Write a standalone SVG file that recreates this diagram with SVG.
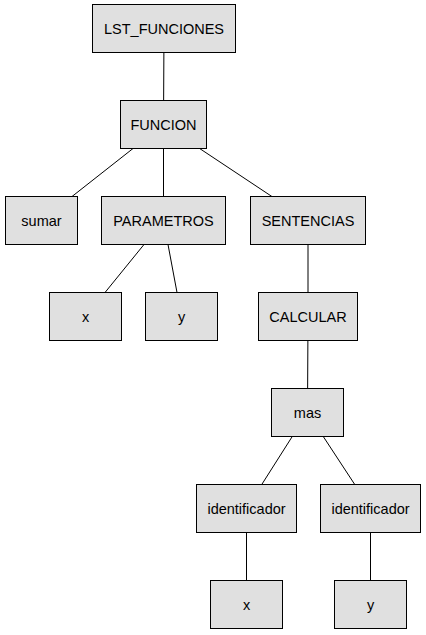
<svg xmlns="http://www.w3.org/2000/svg" width="426" height="635" viewBox="0 0 426 635">
<style>
.n rect{fill:#e0e0e0;stroke:#000;stroke-width:1}
.n text{font-family:"Liberation Sans",Arial,sans-serif;font-size:14.5px;fill:#000;text-anchor:middle}
.e line{stroke:#000;stroke-width:1}
</style>
<rect width="426" height="635" fill="#fff"/>
<g class="e">
<line x1="164" y1="28.5" x2="163.5" y2="124.5"/>
<line x1="163.5" y1="124.5" x2="41.5" y2="220.5"/>
<line x1="163.5" y1="124.5" x2="163.5" y2="220.5"/>
<line x1="163.5" y1="124.5" x2="308" y2="220.5"/>
<line x1="163.5" y1="220.5" x2="85.5" y2="316.5"/>
<line x1="163.5" y1="220.5" x2="181.5" y2="316.5"/>
<line x1="308" y1="220.5" x2="308" y2="316.5"/>
<line x1="308" y1="316.5" x2="307.5" y2="412.5"/>
<line x1="307.5" y1="412.5" x2="246.5" y2="508.5"/>
<line x1="307.5" y1="412.5" x2="370.5" y2="508.5"/>
<line x1="246.5" y1="508.5" x2="246.5" y2="604.5"/>
<line x1="370.5" y1="508.5" x2="370.5" y2="604.5"/>
</g>
<g id="n1" class="n"><rect x="92.5" y="4.5" width="143" height="48"/><text x="164" y="33.5">LST_FUNCIONES</text></g>
<g id="n2" class="n"><rect x="120.5" y="100.5" width="86" height="48"/><text x="163.5" y="129.5">FUNCION</text></g>
<g id="n3" class="n"><rect x="5.5" y="196.5" width="72" height="48"/><text x="41.5" y="225.5">sumar</text></g>
<g id="n4" class="n"><rect x="101.5" y="196.5" width="124" height="48"/><text x="163.5" y="225.5">PARAMETROS</text></g>
<g id="n5" class="n"><rect x="250.5" y="196.5" width="115" height="48"/><text x="308" y="225.5">SENTENCIAS</text></g>
<g id="n6" class="n"><rect x="49.5" y="292.5" width="72" height="48"/><text x="85.5" y="321.5">x</text></g>
<g id="n7" class="n"><rect x="145.5" y="292.5" width="72" height="48"/><text x="181.5" y="321.5">y</text></g>
<g id="n8" class="n"><rect x="258.5" y="292.5" width="99" height="48"/><text x="308" y="321.5">CALCULAR</text></g>
<g id="n9" class="n"><rect x="271.5" y="388.5" width="72" height="48"/><text x="307.5" y="417.5">mas</text></g>
<g id="n10" class="n"><rect x="196.5" y="484.5" width="100" height="48"/><text x="246.5" y="513.5">identificador</text></g>
<g id="n11" class="n"><rect x="320.5" y="484.5" width="100" height="48"/><text x="370.5" y="513.5">identificador</text></g>
<g id="n12" class="n"><rect x="210.5" y="580.5" width="72" height="48"/><text x="246.5" y="609.5">x</text></g>
<g id="n13" class="n"><rect x="334.5" y="580.5" width="72" height="48"/><text x="370.5" y="609.5">y</text></g>
</svg>
